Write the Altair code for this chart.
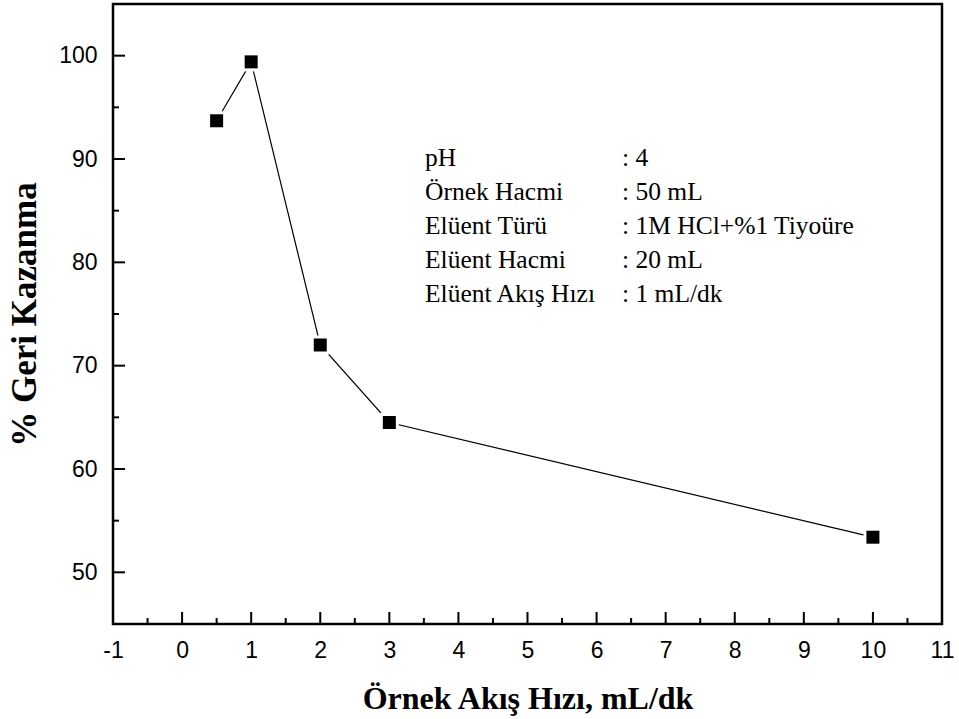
import altair as alt
import pandas as pd

# data
flow_rate = [0.5, 1, 2, 3, 10]
recovery = [93.7, 99.4, 72.0, 64.5, 53.4]

x_major = [-1, 0, 1, 2, 3, 4, 5, 6, 7, 8, 9, 10, 11]
x_minor = [-0.5, 0.5, 1.5, 2.5, 3.5, 4.5, 5.5, 6.5, 7.5, 8.5, 9.5, 10.5]
y_major = [50, 60, 70, 80, 90, 100]
y_minor = [45, 55, 65, 75, 85, 95, 105]

info_labels = ["pH", "Örnek Hacmi", "Elüent Türü", "Elüent Hacmi", "Elüent Akış Hızı"]
info_values = [": 4", ": 50 mL", ": 1M HCl+%1 Tiyoüre", ": 20 mL", ": 1 mL/dk"]

W, H = 829, 620
SERIF = "Liberation Serif"
SANS = "Liberation Sans"

df = pd.DataFrame({"x": flow_rate, "y": recovery})

xs = alt.Scale(domain=[-1, 11], nice=False, zero=False)
ys = alt.Scale(domain=[45, 105], nice=False, zero=False)

xaxis = alt.Axis(values=x_major, ticks=False, domain=False, grid=False,
                 labelFont=SANS, labelFontSize=23, labelColor="black",
                 labelPadding=15, labelFlush=False, labelExpr="'' + datum.value",
                 title="Örnek Akış Hızı, mL/dk", titleFont=SERIF,
                 titleFontSize=32, titleFontWeight="bold", titleColor="black",
                 titlePadding=21)
yaxis = alt.Axis(values=y_major, ticks=False, domain=False, grid=False,
                 labelFont=SANS, labelFontSize=23, labelColor="black",
                 labelPadding=16, labelFlush=False, labelExpr="'' + datum.value",
                 title="% Geri Kazanma", titleFont=SERIF,
                 titleFontSize=35, titleFontWeight="bold", titleColor="black",
                 titlePadding=16)

base = alt.Chart(df)

line = base.mark_line(color="black", strokeWidth=1.2).encode(
    x=alt.X("x:Q", scale=xs, axis=xaxis),
    y=alt.Y("y:Q", scale=ys, axis=yaxis),
)
halo = base.mark_point(shape="square", filled=True, color="white", size=361, opacity=1).encode(
    x=alt.X("x:Q", scale=xs), y=alt.Y("y:Q", scale=ys))
pts = base.mark_point(shape="square", filled=True, color="black", size=169, opacity=1).encode(
    x=alt.X("x:Q", scale=xs), y=alt.Y("y:Q", scale=ys))

xmaj = alt.Chart(pd.DataFrame({"v": x_major})).mark_rule(color="black", strokeWidth=2).encode(
    x=alt.X("v:Q", scale=xs), y=alt.value(H), y2=alt.value(H - 12))
xmin = alt.Chart(pd.DataFrame({"v": x_minor})).mark_rule(color="black", strokeWidth=2).encode(
    x=alt.X("v:Q", scale=xs), y=alt.value(H), y2=alt.value(H - 6))
ymaj = alt.Chart(pd.DataFrame({"v": y_major})).mark_rule(color="black", strokeWidth=2).encode(
    y=alt.Y("v:Q", scale=ys), x=alt.value(0), x2=alt.value(12))
ymin = alt.Chart(pd.DataFrame({"v": y_minor})).mark_rule(color="black", strokeWidth=2).encode(
    y=alt.Y("v:Q", scale=ys), x=alt.value(0), x2=alt.value(6))

txt_df = pd.DataFrame({"a": ["\n".join(info_labels)], "b": ["\n".join(info_values)]})
t1 = alt.Chart(txt_df).mark_text(font=SERIF, fontSize=25.5, align="left", baseline="alphabetic",
                                 lineBreak="\n", lineHeight=34, color="black").encode(
    text="a:N", x=alt.value(312), y=alt.value(162))
t2 = alt.Chart(txt_df).mark_text(font=SERIF, fontSize=25.5, align="left", baseline="alphabetic",
                                 lineBreak="\n", lineHeight=34, color="black").encode(
    text="b:N", x=alt.value(509), y=alt.value(162))

chart = alt.layer(line, xmaj, xmin, ymaj, ymin, halo, pts, t1, t2).properties(
    width=W, height=H,
    autosize=alt.AutoSizeParams(type="none"),
    padding={"left": 113, "top": 4, "right": 17, "bottom": 95},
    background="white",
).configure_view(stroke="black", strokeWidth=2.5)

chart.save("out.html", embed_options={"renderer": "svg", "actions": False})
